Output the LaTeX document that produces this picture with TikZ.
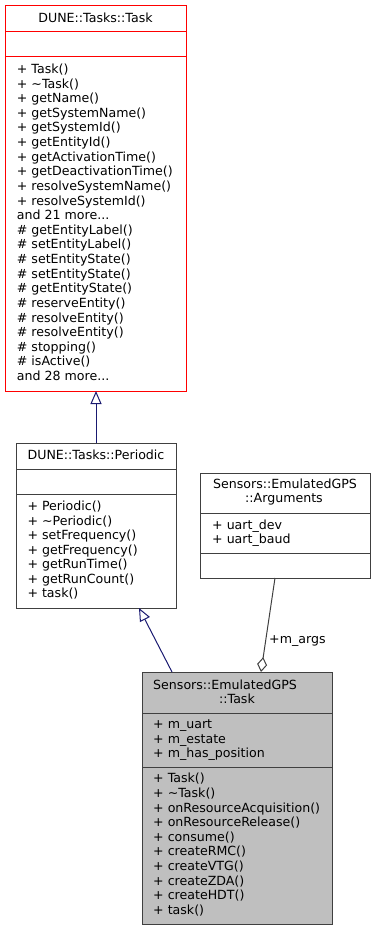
\documentclass[tikz,border=0pt]{standalone}
\usepackage{fontspec}
\setmainfont{DejaVu Sans}
\usetikzlibrary{arrows.meta,calc}
\definecolor{edgeblue}{HTML}{191970}
\definecolor{boxgray}{HTML}{404040}
\definecolor{fillgray}{HTML}{BFBFBF}
\newcommand\mythreedots{...}
\begin{document}
\begin{tikzpicture}[x=1pt,y=-1pt,
  font=\fontsize{12.6}{14.6}\selectfont,
  clsbox/.style={draw=boxgray, line width=1pt, inner sep=0pt, outer sep=0pt},
  sepline/.style={draw=boxgray, line width=1pt},
  txt/.style={inner sep=0pt, anchor=base west},
  ttl/.style={inner sep=0pt, anchor=base},
  inh/.style={draw=edgeblue, line width=1pt, -{Triangle[open,length=13pt,width=11pt]}},
  agg/.style={draw=boxgray, line width=1pt, -{Diamond[open,length=15pt,width=10pt]}}]
\useasboundingbox (0,0) rectangle (376,931);

% ---- DUNE::Tasks::Task
\node[clsbox, draw=red, minimum width=181pt, minimum height=385pt] (task) at (95.5,198.5) {};
\draw[sepline, draw=red] (5,32) -- (186,32);
\draw[sepline, draw=red] (5,57) -- (186,57);
\node[ttl] (tasktitle) at (95.5,22.5) {DUNE::Tasks::Task};
\foreach \t [count=\i from 0] in {
  {+ Task()},{+ \textasciitilde Task()},{+ getName()},{+ getSystemName()},
  {+ getSystemId()},{+ getEntityId()},{+ getActivationTime()},
  {+ getDeactivationTime()},{+ resolveSystemName()},{+ resolveSystemId()},
  {and 21 more\mythreedots},{\# getEntityLabel()},{\# setEntityLabel()},
  {\# setEntityState()},{\# setEntityState()},{\# getEntityState()},
  {\# reserveEntity()},{\# resolveEntity()},{\# resolveEntity()},
  {\# stopping()},{\# isActive()},{and 28 more\mythreedots}}
  \node[txt] (tm\i) at (16.7,73.5+\i*14.62) {\t};

% ---- DUNE::Tasks::Periodic
\node[clsbox, minimum width=160pt, minimum height=165pt] (periodic) at (96,525.5) {};
\draw[sepline] (16,469) -- (176,469);
\draw[sepline] (16,494) -- (176,494);
\node[ttl] (pertitle) at (96,459.5) {DUNE::Tasks::Periodic};
\foreach \t [count=\i from 0] in {
  {+ Periodic()},{+ \textasciitilde Periodic()},{+ setFrequency()},
  {+ getFrequency()},{+ getRunTime()},{+ getRunCount()},{+ task()}}
  \node[txt] (pm\i) at (27.3,510.5+\i*14.5) {\t};

% ---- Sensors::EmulatedGPS::Arguments
\node[clsbox, minimum width=170pt, minimum height=105pt] (args) at (285,525.5) {};
\draw[sepline] (200,513) -- (370,513);
\draw[sepline] (200,553) -- (370,553);
\node[ttl] (argtitle1) at (285,488.5) {Sensors::EmulatedGPS};
\node[ttl] (argtitle2) at (284,502.5) {::Arguments};
\node[txt] (aa0) at (212,529) {+ uart\_dev};
\node[txt] (aa1) at (212,543) {+ uart\_baud};

% ---- Sensors::EmulatedGPS::Task
\node[clsbox, fill=fillgray, minimum width=190pt, minimum height=252pt] (gps) at (237,798) {};
\draw[sepline] (142,713) -- (332,713);
\draw[sepline] (142,767) -- (332,767);
\node[txt] (gpstitle1) at (153,689.5) {Sensors::EmulatedGPS};
\node[ttl] (gpstitle2) at (237,703) {::Task};
\foreach \t [count=\i from 0] in {
  {+ m\_uart},{+ m\_estate},{+ m\_has\_position}}
  \node[txt] (ga\i) at (153,728.8+\i*14.4) {\t};
\foreach \t [count=\i from 0] in {
  {+ Task()},{+ \textasciitilde Task()},{+ onResourceAcquisition()},
  {+ onResourceRelease()},{+ consume()},{+ createRMC()},{+ createVTG()},
  {+ createZDA()},{+ createHDT()},{+ task()}}
  \node[txt] (gm\i) at (153,782.8+\i*14.63) {\t};

% ---- connectors
\draw[inh] (periodic.north) -- (periodic.north |- task.south);
\draw[inh] ($(gps.north west)+(30,0)$) -- ($(periodic.south west)+(123,0)$);
\draw[agg] ($(args.south west)+(75,0)$) -- ($(gps.north west)+(119,0)$);
\node[txt] (margs) at (269,643) {+m\_args};
\end{tikzpicture}
\end{document}
